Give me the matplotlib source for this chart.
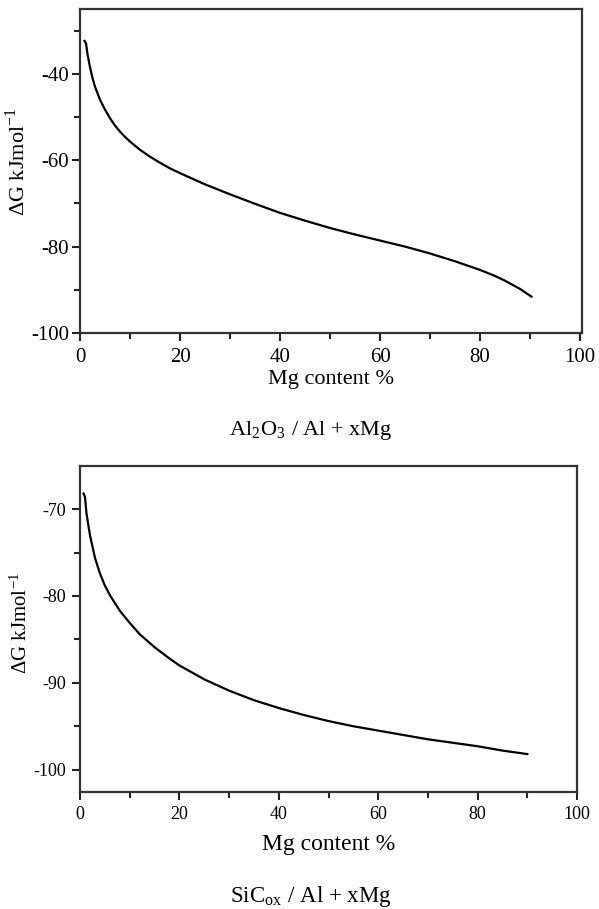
import matplotlib
matplotlib.use("Agg")
import matplotlib.pyplot as plt

plt.rcParams['font.family'] = ['Liberation Serif', 'DejaVu Serif']
plt.rcParams['mathtext.fontset'] = 'stix'
plt.rcParams['axes.unicode_minus'] = False

# Top panel: Al2O3 / Al + xMg
mg_top = [0.9, 1.2, 1.5, 2, 2.5, 3, 4, 5, 6, 7, 8, 9, 10, 12, 14, 16, 18, 20, 25, 30,
          35, 40, 45, 50, 55, 60, 65, 70, 75, 80, 83, 85, 88, 90.3]
dg_top = [-32.4, -33.0, -35.5, -38.5, -41.0, -43.0, -46.0, -48.3, -50.3, -52.0, -53.4,
          -54.6, -55.7, -57.6, -59.2, -60.6, -61.9, -63.0, -65.6, -67.9, -70.1, -72.2,
          -74.0, -75.7, -77.2, -78.6, -80.0, -81.6, -83.4, -85.4, -86.8, -87.9, -89.8, -91.6]

# Bottom panel: SiCox / Al + xMg
mg_bot = [0.7, 1.0, 1.3, 2, 3, 4, 5, 6, 7, 8, 10, 12, 15, 18, 20, 25, 30, 35, 40, 45,
          50, 55, 60, 65, 70, 75, 80, 85, 90]
dg_bot = [-68.2, -68.6, -70.5, -73.0, -75.6, -77.4, -78.8, -79.9, -80.8, -81.7, -83.1,
          -84.4, -85.9, -87.2, -88.0, -89.6, -90.9, -92.0, -92.9, -93.7, -94.4, -95.0,
          -95.5, -96.0, -96.5, -96.9, -97.3, -97.8, -98.2]

x_ticks = [0, 20, 40, 60, 80, 100]
top_yticks = [-100, -80, -60, -40]
bot_yticks = [-100, -90, -80, -70]

fig = plt.figure(figsize=(5.99, 9.09), dpi=100)

ax1 = fig.add_axes([0.1336, 0.6337, 0.838, 0.3564])
ax2 = fig.add_axes([0.1336, 0.1284, 0.8297, 0.3593])

for ax in (ax1, ax2):
    for s in ax.spines.values():
        s.set_linewidth(1.6)
        s.set_color('#333333')
    ax.tick_params(axis='both', which='major', length=6, width=1.5, direction='out', color='#222222')
    ax.tick_params(axis='both', which='minor', length=4, width=1.5, direction='out', color='#222222')
    ax.set_xticks(x_ticks)
    ax.set_xticks([10, 30, 50, 70, 90], minor=True)

ax1.plot(mg_top, dg_top, color='black', lw=1.6)
ax1.set_xlim(0, 100.4)
ax1.set_ylim(-100, -25)
ax1.set_yticks(top_yticks)
ax1.set_yticks([-90, -70, -50, -30], minor=True)
ax1.tick_params(axis='x', labelsize=15, pad=5)
ax1.tick_params(axis='y', labelsize=15, pad=2)
ax1.set_xlabel('Mg content %', fontsize=16, labelpad=2)
ax1.set_ylabel(r'ΔG kJmol$^{\mathregular{-1}}$', fontsize=16)
ax1.yaxis.set_label_coords(-0.10, 0.528)

ax2.plot(mg_bot, dg_bot, color='black', lw=1.6)
ax2.set_xlim(0, 100)
ax2.set_ylim(-102.6, -65)
ax2.set_yticks(bot_yticks)
ax2.set_yticks([-95, -85, -75], minor=True)
ax2.tick_params(labelsize=13, pad=4)
ax2.set_xlabel('Mg content %', fontsize=17, labelpad=8)
ax2.set_ylabel(r'ΔG kJmol$^{\mathregular{-1}}$', fontsize=15)
ax2.yaxis.set_label_coords(-0.097, 0.518)

fig.text(0.518, 0.526, r'Al$_{\mathregular{2}}$O$_{\mathregular{3}}$ / Al + xMg', ha='center', va='center', fontsize=16)
fig.text(0.518, 0.0143, r'SiC$_{\mathregular{ox}}$ / Al + xMg', ha='center', va='center', fontsize=16.5)

fig.savefig('out.png', dpi=100)
